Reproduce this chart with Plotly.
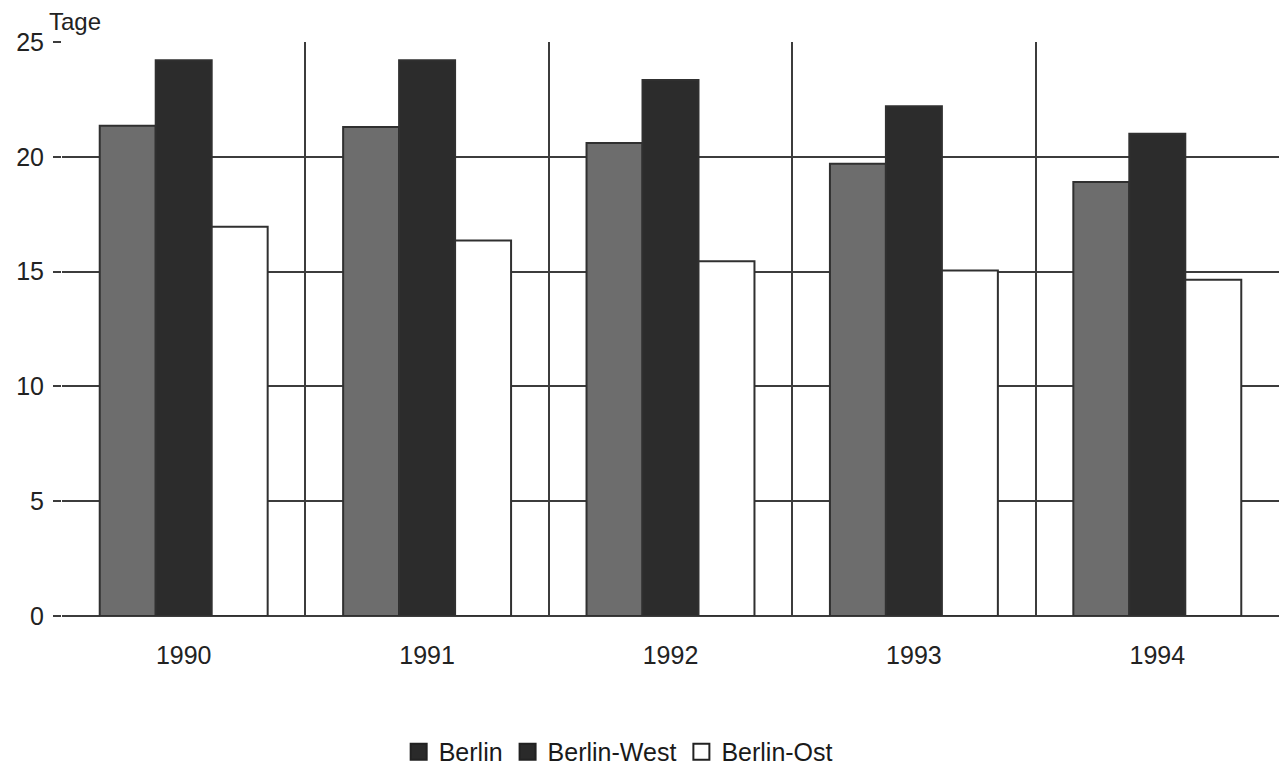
import plotly.graph_objects as go

# Durchschnittliche Dauer in Tagen, nach Jahr und Gebiet
jahre = ["1990", "1991", "1992", "1993", "1994"]
berlin = [21.35, 21.3, 20.6, 19.7, 18.9]
berlin_west = [24.2, 24.2, 23.35, 22.2, 21.0]
berlin_ost = [16.95, 16.35, 15.45, 15.05, 14.65]
y_ticks = [0, 5, 10, 15, 20, 25]

serien = [
    ("Berlin", berlin, "#6d6d6d"),
    ("Berlin-West", berlin_west, "#2c2c2c"),
    ("Berlin-Ost", berlin_ost, "#ffffff"),
]
legende_farben = ["#2a2a2a", "#2a2a2a", "#ffffff"]

fig = go.Figure()
for name, werte, farbe in serien:
    fig.add_trace(go.Bar(
        x=jahre, y=werte, name=name, showlegend=False,
        marker=dict(color=farbe, line=dict(color="#303030", width=2)),
    ))

# Legend swatches drawn as square markers
for (name, _, _), farbe in zip(serien, legende_farben):
    fig.add_trace(go.Scatter(
        x=[None], y=[None], mode="markers", name=name,
        marker=dict(symbol="square", size=16, color=farbe,
                    line=dict(color="#222222", width=2)),
    ))

schrift = "Arial, Liberation Sans, sans-serif"
fig.update_layout(
    width=1283, height=765,
    margin=dict(l=62, r=4, t=42, b=149, autoexpand=False),
    paper_bgcolor="white", plot_bgcolor="white",
    barmode="group", bargap=0.31, bargroupgap=0,
    font=dict(family=schrift, color="#222222", size=24),
    legend=dict(orientation="h", x=0.457, xanchor="center",
                yref="container", y=0.017, yanchor="middle",
                font=dict(size=25, color="#1a1a1a"),
                itemwidth=30, tracegroupgap=0),
    annotations=[dict(text="Tage", xref="paper", yref="paper", x=-0.012,
                      y=1.0, xanchor="left", yanchor="bottom", yshift=5,
                      showarrow=False, font=dict(size=24, color="#222222"))],
)
fig.update_xaxes(
    type="category", tickson="boundaries", showgrid=True,
    gridcolor="#3c3c3c", gridwidth=1.5, ticks="", ticklen=0,
    tickfont=dict(size=25), ticklabelstandoff=22, showline=False,
    zeroline=False, automargin=False,
)
fig.update_yaxes(
    range=[0, 25], tickvals=y_ticks, showgrid=True, gridcolor="#3c3c3c",
    gridwidth=1.5, ticks="outside", ticklen=8, tickcolor="#3c3c3c",
    tickwidth=1.5, tickfont=dict(size=25), ticklabelstandoff=4,
    zeroline=True, zerolinecolor="#3c3c3c", zerolinewidth=2, showline=False,
    automargin=False,
)

fig.write_html("out.html")
